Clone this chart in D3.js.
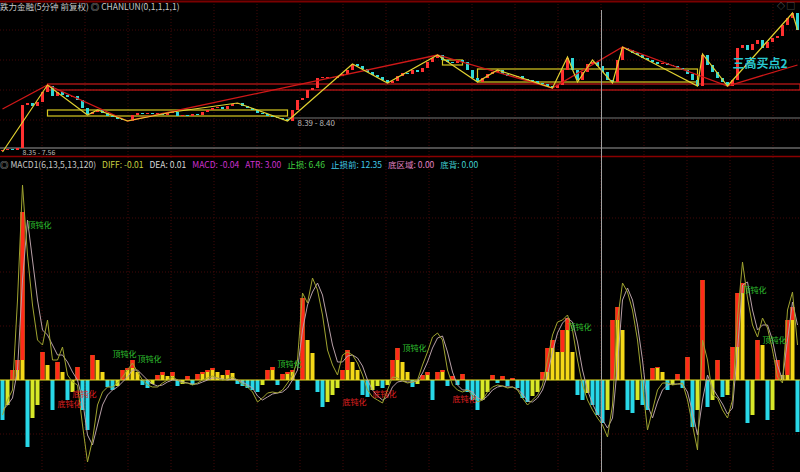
<!DOCTYPE html>
<html>
<head>
<meta charset="utf-8">
<script src="https://cdn.jsdelivr.net/npm/d3@7"></script>
<style>
  body { margin: 0; background: #000; overflow: hidden; }
  svg { display: block; font-family: "Noto Sans CJK SC", "DejaVu Sans", sans-serif; }
</style>
</head>
<body>
<svg id="chart" width="800" height="472"></svg>
<script>
// 5 minute closes, one per bar
const closes = [
  8.10, 8.11, 8.10, 8.12, 8.55, 8.57, 8.54, 8.58, 8.68, 8.74,
  8.64, 8.68, 8.65, 8.63, 8.64, 8.60, 8.52, 8.46, 8.48, 8.50,
  8.47, 8.44, 8.43, 8.41, 8.40, 8.39, 8.45, 8.47, 8.46, 8.47,
  8.46, 8.47, 8.45, 8.47, 8.48, 8.44, 8.45, 8.44, 8.46, 8.45,
  8.48, 8.50, 8.52, 8.53, 8.51, 8.54, 8.56, 8.57, 8.54, 8.52,
  8.50, 8.47, 8.46, 8.44, 8.43, 8.42, 8.41, 8.39, 8.50, 8.60,
  8.62, 8.70, 8.72, 8.82, 8.83, 8.83, 8.82, 8.84, 8.86, 8.90,
  8.96, 8.94, 8.91, 8.88, 8.85, 8.83, 8.80, 8.77, 8.79, 8.84,
  8.87, 8.86, 8.90, 8.88, 8.92, 8.98, 9.02, 9.05, 9.00, 8.98,
  8.97, 9.00, 8.98, 8.90, 8.82, 8.78, 8.82, 8.86, 8.88, 8.90,
  8.86, 8.84, 8.83, 8.84, 8.81, 8.80, 8.79, 8.77, 8.76, 8.74,
  8.72, 8.75, 8.90, 9.02, 8.90, 8.80, 8.88, 8.96, 8.98, 8.94,
  8.88, 8.80, 8.78, 9.00, 9.12, 9.10, 9.07, 9.05, 9.02, 9.00,
  8.98, 8.96, 8.97, 8.95, 8.94, 8.92, 8.90, 8.86, 8.80, 8.74,
  9.05, 8.95, 8.88, 8.82, 8.78, 8.74, 8.80, 9.12, 9.15, 9.10,
  9.16, 9.20, 9.12, 9.18, 9.22, 9.24, 9.35, 9.42, 9.47, 9.30
];

// stroke pivots [bar, price] and segment pivots
const biPivots = [
  [0, 8.08], [9, 8.75], [17, 8.45], [19, 8.50], [25, 8.39], [34, 8.48], [47, 8.57],
  [57, 8.39], [70, 8.96], [77, 8.77], [87, 9.05], [95, 8.78], [99, 8.90], [110, 8.72],
  [113, 9.03], [115, 8.78], [118, 9.00], [122, 8.77], [124, 9.13], [139, 8.74],
  [140, 9.06], [145, 8.74], [158, 9.47], [159, 9.30]
];
const segPivots = [
  [0, 8.51], [9, 8.75], [25, 8.39], [87, 9.05], [110, 8.72], [124, 9.13], [145, 8.74], [159, 8.95]
];

// pivot boxes [fromBar, toBar, low, high]
const biBoxes = [[9, 57, 8.44, 8.50], [95, 139, 8.78, 8.91], [88, 92, 8.95, 9.00]];
const segBoxes = [[9, 159.5, 8.70, 8.76]];

// MACD panel
const macdHist = [
  -0.040, -0.025, 0.010, 0.020, 0.168, -0.067, -0.038, -0.025, 0.028, 0.015,
  -0.030, 0.018, 0.008, -0.020, -0.012, 0.013, -0.030, -0.050, 0.025, 0.020,
  0.008, -0.007, -0.010, -0.006, 0.010, 0.012, 0.020, 0.008, -0.005, -0.008,
  -0.004, 0.005, 0.008, 0.004, 0.008, -0.006, -0.004, 0.004, -0.005, 0.006,
  0.008, 0.010, 0.012, 0.008, 0.005, 0.010, 0.007, -0.004, -0.006, -0.008,
  -0.010, -0.012, -0.005, 0.010, 0.013, -0.005, 0.006, 0.008, 0.010, -0.010,
  0.082, 0.040, 0.027, -0.012, -0.027, -0.022, -0.015, -0.008, 0.010, 0.030,
  0.018, 0.010, -0.015, -0.017, -0.010, -0.006, -0.008, -0.005, 0.020, 0.032,
  0.018, 0.008, -0.007, -0.004, 0.005, 0.008, -0.020, 0.008, 0.010, -0.006,
  0.004, -0.005, 0.006, -0.012, -0.020, -0.030, -0.020, -0.012, 0.005, -0.003,
  0.004, -0.006, 0.002, -0.008, -0.018, -0.022, -0.016, -0.012, 0.008, 0.032,
  0.040, 0.028, 0.050, 0.062, 0.028, -0.015, -0.020, -0.013, -0.025, -0.035,
  -0.043, -0.030, 0.060, 0.073, 0.050, -0.030, -0.033, -0.020, -0.025, -0.030,
  0.012, 0.013, 0.008, -0.010, -0.005, 0.006, -0.008, 0.023, -0.047, -0.030,
  0.100, -0.027, -0.020, 0.020, -0.017, -0.015, 0.033, 0.087, 0.097, -0.043,
  -0.035, 0.040, 0.035, -0.040, -0.030, 0.020, 0.005, 0.060, 0.073, -0.052
];
const diffLine = [
  -0.035, -0.020, -0.010, 0.080, 0.195, 0.125, 0.075, 0.040, 0.035, 0.060,
  0.020, 0.020, 0.033, 0.005, -0.002, -0.005, -0.045, -0.082, -0.060, -0.025,
  -0.012, -0.007, -0.007, -0.003, 0.003, 0.010, 0.017, 0.008, 0.000, -0.005,
  -0.007, -0.007, -0.003, 0.000, 0.003, 0.000, -0.003, -0.003, -0.005, -0.003,
  0.000, 0.002, 0.004, 0.002, 0.000, 0.001, 0.003, 0.000, -0.004, -0.007,
  -0.012, -0.022, -0.018, -0.013, -0.012, -0.013, -0.010, -0.003, 0.005, 0.020,
  0.087, 0.077, 0.102, 0.090, 0.065, 0.030, 0.015, 0.005, 0.025, 0.028,
  0.025, 0.017, 0.005, -0.010, -0.017, -0.020, -0.023, -0.010, 0.003, 0.002,
  -0.001, -0.003, -0.002, 0.000, 0.015, 0.028, 0.043, 0.047, 0.040, 0.010,
  -0.005, -0.010, -0.012, -0.010, -0.015, -0.022, -0.020, -0.012, -0.007, -0.005,
  -0.006, -0.008, -0.007, -0.010, -0.018, -0.025, -0.020, -0.015, -0.005, 0.020,
  0.045, 0.058, 0.060, 0.065, 0.050, 0.020, -0.005, -0.020, -0.030, -0.038,
  -0.045, -0.057, -0.025, 0.060, 0.097, 0.088, 0.070, 0.040, -0.005, -0.050,
  -0.030, -0.010, -0.003, -0.003, -0.005, -0.004, -0.003, -0.020, -0.045, -0.070,
  0.040, 0.020, -0.015, -0.018, -0.030, -0.038, -0.020, 0.063, 0.118, 0.082,
  0.055, 0.043, 0.062, 0.052, 0.030, 0.003, -0.003, 0.070, 0.088, 0.035
];
const deaLine = [
  -0.030, -0.025, -0.018, 0.010, 0.100, 0.160, 0.120, 0.080, 0.050, 0.045,
  0.035, 0.025, 0.025, 0.018, 0.008, 0.000, -0.020, -0.055, -0.065, -0.045,
  -0.025, -0.015, -0.010, -0.007, -0.002, 0.003, 0.010, 0.010, 0.005, 0.000,
  -0.004, -0.006, -0.005, -0.002, 0.000, 0.000, -0.002, -0.003, -0.004, -0.004,
  -0.002, 0.000, 0.002, 0.002, 0.001, 0.000, 0.001, 0.000, -0.002, -0.005,
  -0.008, -0.016, -0.020, -0.017, -0.014, -0.013, -0.012, -0.008, 0.000, 0.010,
  0.050, 0.075, 0.088, 0.097, 0.085, 0.060, 0.035, 0.018, 0.018, 0.024,
  0.025, 0.022, 0.014, 0.000, -0.010, -0.016, -0.020, -0.017, -0.007, -0.002,
  -0.001, -0.002, -0.002, -0.001, 0.007, 0.018, 0.032, 0.042, 0.044, 0.028,
  0.008, -0.005, -0.010, -0.010, -0.012, -0.018, -0.020, -0.016, -0.010, -0.007,
  -0.006, -0.007, -0.007, -0.009, -0.014, -0.021, -0.022, -0.018, -0.010, 0.005,
  0.028, 0.047, 0.057, 0.062, 0.058, 0.038, 0.010, -0.010, -0.024, -0.034,
  -0.040, -0.048, -0.038, 0.015, 0.080, 0.092, 0.080, 0.055, 0.020, -0.025,
  -0.038, -0.022, -0.010, -0.005, -0.004, -0.004, -0.004, -0.012, -0.032, -0.055,
  -0.020, 0.005, -0.008, -0.016, -0.024, -0.034, -0.028, 0.030, 0.095, 0.098,
  0.070, 0.050, 0.055, 0.055, 0.040, 0.015, 0.000, 0.040, 0.078, 0.055
];

// signal marks [bar, value]
const topSignals = [[5, 0.152], [22, 0.023], [27, 0.018], [55, 0.013], [80, 0.029], [113, 0.050], [148, 0.087], [152, 0.037]];
const bottomSignals = [[11, -0.027], [14, -0.017], [68, -0.025], [74, -0.017], [90, -0.022]];

const width = 800, height = 472;
const svg = d3.select("#chart");

svg.append("rect").attr("width", width).attr("height", height).attr("fill", "#000");

const x = d3.scaleLinear().domain([0, closes.length - 1]).range([2.5, 797.5]);
const yPrice = d3.scaleLinear().domain([8.0, 9.6]).range([160, 0]);
const yMacd = d3.scaleLinear().domain([-0.09, 0.21]).range([470, 170]);

// faint grid
const grid = svg.append("g").attr("stroke", "#420808").attr("stroke-dasharray", "1,2");
d3.range(42, 800, 43).forEach((gx) => {
  grid.append("line").attr("x1", gx).attr("x2", gx).attr("y1", 4).attr("y2", 472);
});
[30, 60, 90, 120, 218, 272, 326, 434].forEach((gy) => {
  grid.append("line").attr("x1", 0).attr("x2", width).attr("y1", gy).attr("y2", gy);
});

// panel borders
svg.append("line").attr("x1", 0).attr("x2", width).attr("y1", 1.5).attr("y2", 1.5)
  .attr("stroke", "#7a0000").attr("stroke-width", 2);
svg.append("line").attr("x1", 0).attr("x2", width).attr("y1", 156.5).attr("y2", 156.5)
  .attr("stroke", "#8a0000").attr("stroke-width", 1.5);

// gray level lines
svg.append("line").attr("x1", 0).attr("x2", width)
  .attr("y1", yPrice(8.12)).attr("y2", yPrice(8.12)).attr("stroke", "#9a9a9a");
svg.append("line").attr("x1", x(57)).attr("x2", width)
  .attr("y1", yPrice(8.42)).attr("y2", yPrice(8.42)).attr("stroke", "#777");

// boxes
svg.selectAll(".segbox").data(segBoxes).enter().append("rect")
  .attr("x", (d) => x(d[0])).attr("y", (d) => yPrice(d[3]))
  .attr("width", (d) => x(d[1]) - x(d[0])).attr("height", (d) => yPrice(d[2]) - yPrice(d[3]))
  .attr("fill", "none").attr("stroke", "#c81818").attr("stroke-width", 1.2);
svg.selectAll(".bibox").data(biBoxes).enter().append("rect")
  .attr("x", (d) => x(d[0])).attr("y", (d) => yPrice(d[3]))
  .attr("width", (d) => x(d[1]) - x(d[0])).attr("height", (d) => yPrice(d[2]) - yPrice(d[3]))
  .attr("fill", "none").attr("stroke", "#d8c820").attr("stroke-width", 1.2);

// candles
const candles = closes.map((c, i) => ({ i: i, open: i > 0 ? closes[i - 1] : 8.09, close: c }));
svg.append("g").selectAll("rect").data(candles).enter().append("rect")
  .attr("x", (d) => x(d.i) - 1.5)
  .attr("y", (d) => yPrice(Math.max(d.open, d.close)))
  .attr("width", 3)
  .attr("height", (d) => Math.max(1, Math.abs(yPrice(d.open) - yPrice(d.close))))
  .attr("fill", (d) => (d.close >= d.open ? "#ff3030" : "#30d8d8"));

// segment and stroke lines
const pivotLine = d3.line().x((d) => x(d[0])).y((d) => yPrice(d[1]));
svg.append("path").attr("d", pivotLine(segPivots)).attr("fill", "none")
  .attr("stroke", "#d01818").attr("stroke-width", 1.3);
svg.append("path").attr("d", pivotLine(biPivots)).attr("fill", "none")
  .attr("stroke", "#e0d030").attr("stroke-width", 1.2);

// price labels
svg.append("text").attr("x", x(59)).attr("y", yPrice(8.34))
  .attr("fill", "#bbb").attr("font-size", 8).text("8.39 - 8.40");
svg.append("text").attr("x", x(4)).attr("y", yPrice(8.05))
  .attr("fill", "#bbb").attr("font-size", 7).text("8.35 - 7.56");
svg.append("text").attr("x", x(146)).attr("y", yPrice(8.92))
  .attr("fill", "#28c8d0").attr("font-size", 12).attr("font-weight", "bold").text("三高买点2");
svg.append("text").attr("x", 777).attr("y", 9)
  .attr("fill", "#888").attr("font-size", 8).text("◇ ▢");

// header texts
svg.append("text").attr("x", 0).attr("y", 10).attr("font-size", 8.5).attr("fill", "#c8c8c8")
  .text("跌力金融(5分钟 前复权) ◎ CHANLUN(0,1,1,1,1)");

const macdHeader = [
  ["◎ MACD1(6,13,5,13,120)", "#c8c8c8"],
  ["DIFF: -0.01", "#c8d040"],
  ["DEA: 0.01", "#d8d8d8"],
  ["MACD: -0.04", "#d030d0"],
  ["ATR: 3.00", "#d030d0"],
  ["止损: 6.46", "#40d040"],
  ["止损前: 12.35", "#40c8e8"],
  ["底区域: 0.00", "#e080c0"],
  ["底背: 0.00", "#40d0d0"]
];
const headerText = svg.append("text").attr("x", 0).attr("y", 168).attr("font-size", 8.5);
macdHeader.forEach((h, k) => {
  headerText.append("tspan").attr("dx", k === 0 ? 0 : 6).attr("fill", h[1]).text(h[0]);
});

// MACD histogram: positive bars yellow with a red rising tip, negative bars cyan when falling
const bars = macdHist.map((v, i) => ({ i: i, v: v, prev: i > 0 ? macdHist[i - 1] : 0 }));
const barW = 4;
const histG = svg.append("g");
histG.selectAll(".base").data(bars).enter().append("rect")
  .attr("x", (d) => x(d.i) - barW / 2)
  .attr("y", (d) => yMacd(Math.max(0, d.v)))
  .attr("width", barW)
  .attr("height", (d) => Math.abs(yMacd(d.v) - yMacd(0)))
  .attr("fill", (d) => (d.v >= 0 ? "#f4d818" : d.v <= d.prev ? "#28d8e8" : "#d8e828"));
histG.selectAll(".tip").data(bars.filter((d) => d.v > 0 && d.v > d.prev)).enter().append("rect")
  .attr("x", (d) => x(d.i) - barW / 2)
  .attr("y", (d) => yMacd(d.v))
  .attr("width", barW)
  .attr("height", (d) => yMacd(Math.max(0, d.prev)) - yMacd(d.v))
  .attr("fill", "#ff2a1a");

svg.append("line").attr("x1", 0).attr("x2", width)
  .attr("y1", yMacd(0)).attr("y2", yMacd(0)).attr("stroke", "#e8e020").attr("stroke-width", 1);

const macdLine = d3.line().x((d, i) => x(i)).y((d) => yMacd(d));
svg.append("path").attr("d", macdLine(deaLine)).attr("fill", "none")
  .attr("stroke", "#b8a0a8").attr("stroke-width", 1);
svg.append("path").attr("d", macdLine(diffLine)).attr("fill", "none")
  .attr("stroke", "#a0a430").attr("stroke-width", 1);

// signal marks
svg.selectAll(".topsig").data(topSignals).enter().append("text")
  .attr("x", (d) => x(d[0])).attr("y", (d) => yMacd(d[1]))
  .attr("font-size", 8).attr("fill", "#30c030").text("顶钝化");
svg.selectAll(".botsig").data(bottomSignals).enter().append("text")
  .attr("x", (d) => x(d[0])).attr("y", (d) => yMacd(d[1]))
  .attr("font-size", 8).attr("fill", "#e02020").text("底钝化");

// cursor
svg.append("line").attr("x1", 601.5).attr("x2", 601.5).attr("y1", 10).attr("y2", height)
  .attr("stroke", "#a0a0a0").attr("stroke-width", 1);
</script>
</body>
</html>
